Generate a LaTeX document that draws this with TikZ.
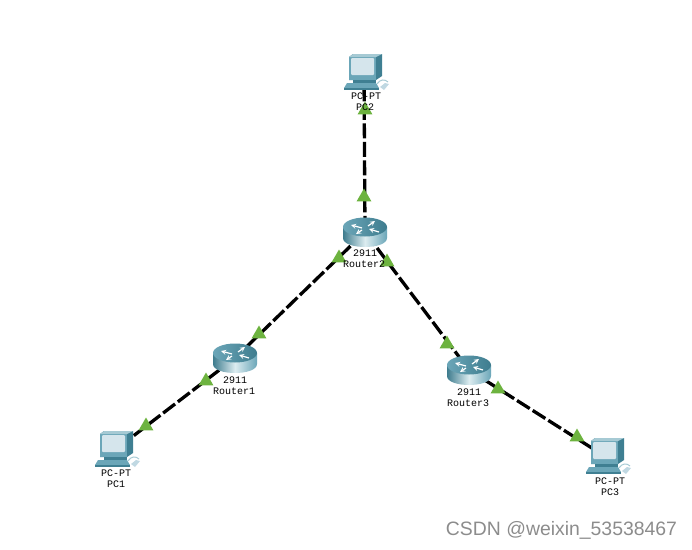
\documentclass[tikz,border=0pt]{standalone}
\usepackage{fontspec}
\setmainfont{Liberation Sans}
\setmonofont{Liberation Mono}
\usetikzlibrary{shapes.geometric}
\definecolor{linkgreen}{HTML}{6DB33F}
\definecolor{pcteal}{HTML}{6BA6B8}
\definecolor{pcdark}{HTML}{3F7F92}
\definecolor{pcscreen}{HTML}{D5E5EC}
\definecolor{routerdark}{HTML}{3E7C8E}
\definecolor{routerlight}{HTML}{DCECF0}
\tikzset{
  devnode/.style={inner sep=0pt,minimum size=2pt},
  devlabel/.style={font=\ttfamily\fontsize{10}{10}\selectfont,inner sep=0pt},
  cable/.style={line width=3.3pt,black,dash pattern=on 15pt off 3.5pt},
  linkup/.style={regular polygon,regular polygon sides=3,fill=linkgreen,
    minimum size=17pt,inner sep=0pt},
  pcicon/.pic={
    \fill[pcdark] (-15,-16) -- (-11,-19) -- (18,-19) -- (18,3) -- (12,7) -- (-15,7) -- cycle;
    \fill[pcteal] (-15,-16) -- (12,-16) -- (12,7) -- (-15,7) -- cycle;
    \fill[pcteal!60!white] (-15,-16) -- (-11,-19) -- (18,-19) -- (12,-16) -- cycle;
    \fill[pcscreen,rounded corners=1pt] (-13,-15) rectangle (10,2);
    \fill[pcdark] (-11,7) rectangle (12,10);
    \fill[pcteal] (-17,10) -- (12,10) -- (15,15) -- (-20,15) -- cycle;
    \fill[pcdark] (-20,15) rectangle (15,17);
    \draw[pcteal!60!white,line width=1pt] (13,11) .. controls (16,6) and (21,6) .. (24,9);
    \fill[pcscreen!80!pcteal] (16,14) -- (21,10) -- (25,11) -- (20,17) -- cycle;
  },
  routericon/.pic={
    \shade[left color=routerdark,right color=pcteal,middle color=routerlight]
      (-22,-5) -- (-22,6) .. controls (-22,18) and (22,18) .. (22,6) -- (22,-5) -- cycle;
    \shade[left color=pcteal,right color=routerdark] (0,-5) ellipse[x radius=22,y radius=9.5];
    \draw[white,line width=1.2pt,->,>=stealth] (-3,-4) -- (-14,-7);
    \draw[white,line width=1.2pt,->,>=stealth] (3,-6) -- (10,-11);
    \draw[white,line width=1.2pt,->,>=stealth] (-3,-2) -- (-9,2);
    \draw[white,line width=1.2pt,->,>=stealth] (14,0) -- (4,-3);
  }
}
\begin{document}
\begin{tikzpicture}[x=1pt,y=-1pt]
  \useasboundingbox (0,0) rectangle (692,549);
  % devices
  \node[devnode] (PC1) at (115,450) {};
  \node[devnode] (PC2) at (364,73) {};
  \node[devnode] (PC3) at (606,457) {};
  \node[devnode] (Router1) at (235,358) {};
  \node[devnode] (Router2) at (365,232) {};
  \node[devnode] (Router3) at (469,370) {};
  % links
  \draw[cable] (Router2) -- (PC2);
  \draw[cable] (Router2) -- (Router1);
  \draw[cable] (Router2) -- (Router3);
  \draw[cable] (Router1) -- (PC1);
  \draw[cable] (Router3) -- (PC3);
  % icons
  \foreach \dev in {PC1,PC2,PC3} \pic at (\dev) {pcicon};
  \foreach \dev in {Router1,Router2,Router3} \pic at (\dev) {routericon};
  % link lights
  \foreach \px/\py [count=\i] in {365/110,364/197,339/258,259/334,387/262,447/344,206/381,146/426,498/389,577/437}
    \node[linkup] (light\i) at (\px,\py) {};
  % labels
  \node[devlabel] (PC1type) at (116,473) {PC-PT};
  \node[devlabel] (PC1name) at (116,484) {PC1};
  \node[devlabel] (PC2type) at (366,96) {PC-PT};
  \node[devlabel] (PC2name) at (365,107) {PC2};
  \node[devlabel] (PC3type) at (610,481) {PC-PT};
  \node[devlabel] (PC3name) at (610,492) {PC3};
  \node[devlabel] (Router1type) at (235,380) {2911};
  \node[devlabel] (Router1name) at (234,391) {Router1};
  \node[devlabel] (Router2type) at (365,253) {2911};
  \node[devlabel] (Router2name) at (364,264) {Router2};
  \node[devlabel] (Router3type) at (469,392) {2911};
  \node[devlabel] (Router3name) at (468,403) {Router3};
  \node[text=black!45,font=\fontsize{19.4}{19.4}\selectfont,inner sep=0pt] (mark) at (561.5,530) {CSDN @weixin\_53538467};
\end{tikzpicture}
\end{document}
